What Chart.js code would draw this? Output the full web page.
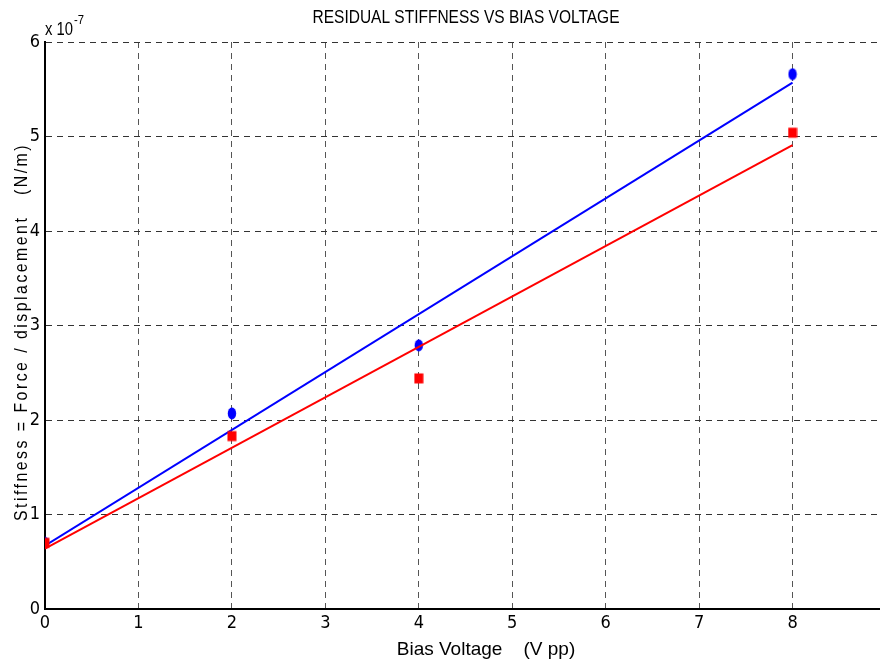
<!DOCTYPE html>
<html>
<head>
<meta charset="utf-8">
<script src="https://cdn.jsdelivr.net/npm/chart.js@4.4.0/dist/chart.umd.min.js"></script>
<style>
  html, body { margin: 0; padding: 0; background: #fff; overflow: hidden; }
  #wrap { width: 880px; height: 666px; overflow: hidden; }
</style>
</head>
<body>
<div id="wrap"><canvas id="chart" width="920" height="666"></canvas></div>
<script>
// bias voltage (V pp) and measured stiffness (x 1e-7 N/m)
var voltage = [0, 2, 4, 8];
var stiffBlue = [0.70, 2.07, 2.79, 5.66];
var stiffRed = [0.70, 1.83, 2.44, 5.04];
// fitted lines, end points
var fitX = [0, 8];
var fitBlue = [0.67, 5.57];
var fitRed = [0.64, 4.91];

var xTicks = [0, 1, 2, 3, 4, 5, 6, 7, 8];
var yTicks = [0, 1, 2, 3, 4, 5, 6];

var TICKFONT = "'DejaVu Sans Condensed', 'Liberation Sans', sans-serif";
var FONT = "'Liberation Sans', Arial, sans-serif";

function toPoints(xs, ys) {
    return xs.map(function (x, i) { return {x: x, y: ys[i]}; });
}

function markerCanvas(color, shape) {
    var c = document.createElement('canvas');
    c.width = 10; c.height = 13;
    var g = c.getContext('2d');
    g.fillStyle = color;
    if (shape === 'ellipse') {
        g.beginPath();
        g.ellipse(5, 6.5, 4.2, 6, 0, 0, Math.PI * 2);
        g.fill();
    } else {
        g.fillRect(0.5, 1.5, 9, 10);
    }
    return c;
}

// narrow text: squeeze to the width it has in the original
function narrowText(ctx, text, x, y, width) {
    var w = ctx.measureText(text).width;
    ctx.fillText(text, x, y, Math.min(w, width));
}

var textPlugin = {
    id: 'matlabText',
    afterDraw: function (chart) {
        var ctx = chart.ctx;
        var area = chart.chartArea;
        ctx.save();
        ctx.fillStyle = '#000';
        ctx.textBaseline = 'middle';
        ctx.textAlign = 'center';

        ctx.font = '19px ' + FONT;
        narrowText(ctx, 'RESIDUAL STIFFNESS VS BIAS VOLTAGE', 466, 18, 307);

        ctx.font = '19px ' + FONT;
        narrowText(ctx, 'Bias Voltage    (V pp)', 486, 650, 179);

        ctx.textAlign = 'left';
        ctx.font = '18px ' + FONT;
        narrowText(ctx, 'x 10', area.left, 30, 28);
        ctx.font = '13px ' + FONT;
        narrowText(ctx, '-7', area.left + 29, 20, 10);

        ctx.save();
        ctx.translate(22, 332);
        ctx.rotate(-Math.PI / 2);
        ctx.textAlign = 'center';
        ctx.font = '19px ' + FONT;
        ctx.letterSpacing = '3px';
        narrowText(ctx, 'Stiffness = Force / displacement   (N/m)', 0, 0, 378);
        ctx.restore();

        ctx.restore();
    }
};

var ctx = document.getElementById('chart');

var myChart = new Chart(ctx, {
    type: 'scatter',
    data: {
        datasets: [
            {
                label: 'red points',
                data: toPoints(voltage, stiffRed),
                pointStyle: markerCanvas('#ff0000', 'rect'),
                pointRadius: 5,
                showLine: false
            },
            {
                label: 'red fit',
                data: toPoints(fitX, fitRed),
                showLine: true,
                borderColor: '#ff0000',
                borderWidth: 2,
                pointRadius: 0
            },
            {
                label: 'blue fit',
                data: toPoints(fitX, fitBlue),
                showLine: true,
                borderColor: '#0000ff',
                borderWidth: 2,
                pointRadius: 0
            },
            {
                label: 'blue points',
                data: toPoints(voltage, stiffBlue),
                pointStyle: markerCanvas('#0000ff', 'ellipse'),
                pointRadius: 5,
                showLine: false
            }
        ]
    },
    options: {
        responsive: false,
        animation: false,
        layout: {
            padding: {left: 0, right: 34, top: 42, bottom: 0}
        },
        plugins: {
            legend: {display: false},
            tooltip: {enabled: false}
        },
        scales: {
            x: {
                type: 'linear',
                min: 0,
                max: 9,
                afterFit: function (scale) { scale.height = 57; },
                afterBuildTicks: function (scale) {
                    scale.ticks = xTicks.concat([9]).map(function (v) { return {value: v}; });
                },
                ticks: {
                    color: '#000',
                    padding: 4,
                    maxRotation: 0,
                    font: {family: TICKFONT, size: 18},
                    callback: function (v) { return v <= 8 ? v : ''; }
                },
                grid: {
                    color: '#555',
                    lineWidth: 1,
                    drawTicks: false
                },
                border: {
                    display: true,
                    color: '#000',
                    width: 2,
                    dash: [6, 5]
                }
            },
            y: {
                type: 'linear',
                min: 0,
                max: 6,
                afterFit: function (scale) { scale.width = 45; },
                afterBuildTicks: function (scale) {
                    scale.ticks = yTicks.map(function (v) { return {value: v}; });
                },
                ticks: {
                    color: '#000',
                    padding: 5,
                    font: {family: TICKFONT, size: 18}
                },
                grid: {
                    color: '#333',
                    lineWidth: 1,
                    drawTicks: false
                },
                border: {
                    display: true,
                    color: '#000',
                    width: 2,
                    dash: [6, 5]
                }
            }
        }
    },
    plugins: [textPlugin]
});
</script>
</body>
</html>
